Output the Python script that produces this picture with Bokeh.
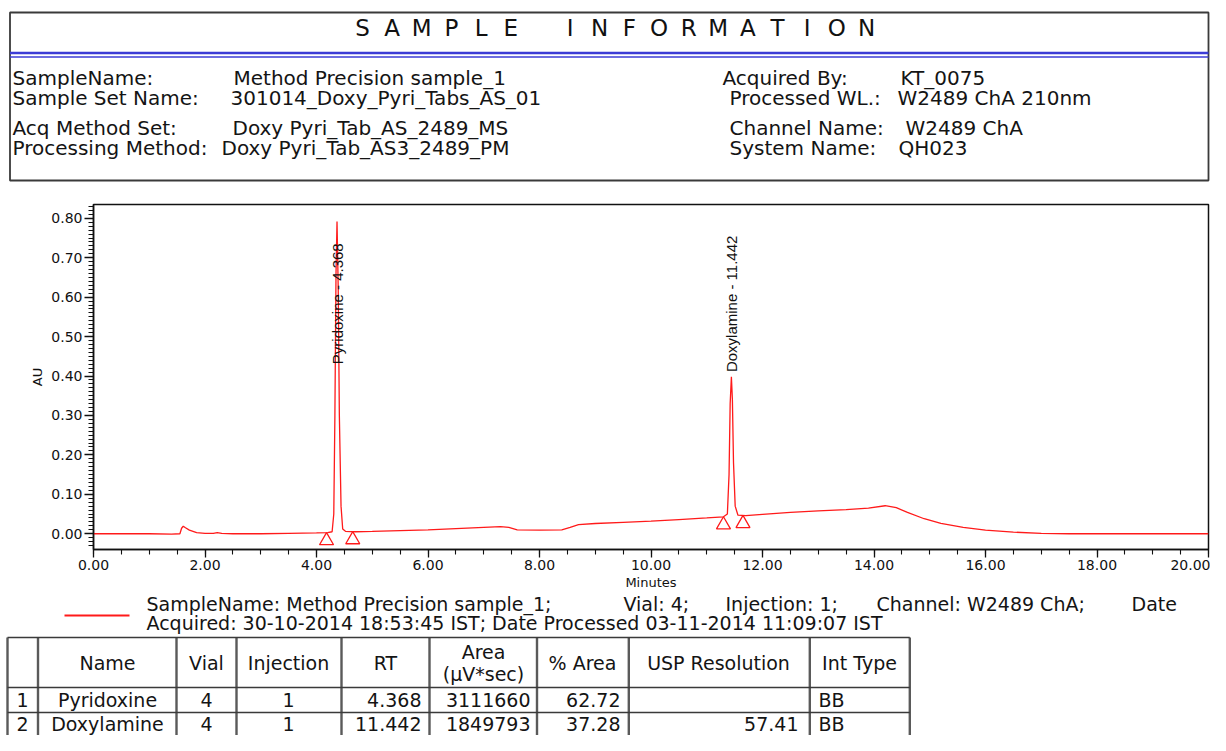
import numpy as np
from math import pi
from bokeh.plotting import figure
from bokeh.models import Range1d, ColumnDataSource, FixedTicker, PrintfTickFormatter
from bokeh.layouts import column
from bokeh.embed import file_html
from bokeh.resources import INLINE
from bokeh.core.properties import value

# ---------------- data ----------------
time_min = [0.00, 0.50, 1.00, 1.40, 1.55, 1.58, 1.61, 1.65, 1.72, 1.85, 2.00, 2.15, 2.22, 2.30,
            2.50, 3.00, 3.50, 4.00, 4.20, 4.28, 4.31, 4.33, 4.35, 4.368, 4.39, 4.41, 4.44, 4.47,
            4.52, 4.70, 5.00, 5.50, 6.00, 6.50, 7.00, 7.30, 7.45, 7.60, 8.00, 8.40, 8.55, 8.70,
            9.00, 9.50, 10.00, 10.50, 11.00, 11.30, 11.37, 11.40, 11.42, 11.442, 11.46, 11.48,
            11.51, 11.56, 11.70, 12.00, 12.50, 13.00, 13.50, 13.90, 14.20, 14.40, 14.60, 14.90,
            15.20, 15.60, 16.00, 16.50, 17.00, 17.50, 18.00, 19.00, 20.00]
absorbance = [0.000, 0.000, 0.000, -0.001, 0.000, 0.014, 0.019, 0.015, 0.009, 0.003, 0.001, 0.001,
              0.003, 0.001, 0.000, 0.000, 0.001, 0.002, 0.003, 0.005, 0.050, 0.300, 0.660, 0.792,
              0.620, 0.300, 0.070, 0.012, 0.006, 0.005, 0.006, 0.008, 0.010, 0.013, 0.016, 0.018,
              0.016, 0.010, 0.009, 0.010, 0.016, 0.023, 0.026, 0.029, 0.032, 0.036, 0.040, 0.043,
              0.050, 0.150, 0.330, 0.398, 0.340, 0.180, 0.070, 0.047, 0.046, 0.049, 0.054, 0.058,
              0.061, 0.065, 0.071, 0.066, 0.054, 0.038, 0.026, 0.016, 0.009, 0.004, 0.001, 0.000,
              0.000, 0.000, 0.000]

peak_labels = ["Pyridoxine - 4.368", "Doxylamine - 11.442"]
peak_rt = [4.368, 11.442]
peak_label_au = [0.43, 0.41]
integration_times = [4.18, 4.65, 11.30, 11.65]

x_major = [0, 2, 4, 6, 8, 10, 12, 14, 16, 18, 20]
y_major = [0.0, 0.1, 0.2, 0.3, 0.4, 0.5, 0.6, 0.7, 0.8]

hdr_left_labels = ["SampleName:", "Sample Set Name:", "Acq Method Set:", "Processing Method:"]
hdr_left_values = ["Method Precision sample_1", "301014_Doxy_Pyri_Tabs_AS_01",
                   "Doxy Pyri_Tab_AS_2489_MS", "Doxy Pyri_Tab_AS3_2489_PM"]
hdr_right_labels = ["Acquired By:", "Processed WL.:", "Channel Name:", "System Name:"]
hdr_right_values = ["KT_0075", "W2489 ChA 210nm", "W2489 ChA", "QH023"]

legend_line1 = ["SampleName: Method Precision sample_1;", "Vial: 4;", "Injection: 1;",
                "Channel: W2489 ChA;", "Date"]
legend_line2 = "Acquired: 30-10-2014 18:53:45 IST; Date Processed 03-11-2014 11:09:07 IST"

tbl_headers = ["Name", "Vial", "Injection", "RT", "% Area", "USP Resolution", "Int Type"]
tbl_area_header = ["Area", "(\u00b5V*sec)"]
tbl_idx = ["1", "2"]
tbl_name = ["Pyridoxine", "Doxylamine"]
tbl_vial = ["4", "4"]
tbl_inj = ["1", "1"]
tbl_rt = ["4.368", "11.442"]
tbl_area = ["3111660", "1849793"]
tbl_pct = ["62.72", "37.28"]
tbl_usp = ["", "57.41"]
tbl_int = ["BB", "BB"]

# ---------------- styling / layout ----------------
W = 1210
FL, FR = 93, 1208          # chart frame left / right in page pixels
FONT = value("DejaVu Sans")
TXT = "#141414"
RED = "#ff1a1a"


def blank(y_top, y_bot):
    p = figure(width=W, height=y_bot - y_top, x_range=Range1d(FL, FR),
               y_range=Range1d(y_bot, y_top), x_axis_location=None, y_axis_location=None,
               min_border_left=FL, min_border_right=W - FR, min_border_top=0,
               min_border_bottom=0, output_backend="svg", toolbar_location=None)
    p.outline_line_color = None
    p.xgrid.visible = False
    p.ygrid.visible = False
    return p


def txt(p, xs, ys, texts, size, align="left", color=TXT, font=FONT):
    src = ColumnDataSource(dict(x=xs, y=ys, t=texts))
    r = p.text(x="x", y="y", text="t", source=src, text_font=font, text_font_size=size,
               text_align=align, text_baseline="middle", text_color=color)
    r.level = "overlay"
    return r


# ---- header ----
p1 = blank(0, 190)
r = p1.quad(left=9.5, right=FR, top=12, bottom=180, fill_color=None,
            line_color="#3a3a3a", line_width=1.8)
r.level = "overlay"
r = p1.segment(x0=[9.5, 9.5], x1=[FR, FR], y0=[52.5, 56.5], y1=[52.5, 56.5],
               line_color="#3c3cd6", line_width=[2.6, 1.6])
r.level = "overlay"
title = "SAMPLE INFORMATION"
pitch = (866 - 362) / (len(title) - 1)
tx = [362 + i * pitch for i, c in enumerate(title) if c != " "]
tt = [c for c in title if c != " "]
txt(p1, tx, [27] * len(tt), tt, "23px", align="center", color="#111111")
rows_y = [77.5, 97, 127, 147]
txt(p1, [12] * 4, rows_y, hdr_left_labels, "20px")
txt(p1, [233, 230, 232, 221], rows_y, hdr_left_values, "20px")
txt(p1, [722, 729, 729, 729], rows_y, hdr_right_labels, "20px")
txt(p1, [900, 897, 905, 898], rows_y, hdr_right_values, "20px")

# ---- chromatogram ----
y0, y1 = -0.04, 0.835
top_b, bot_b = 14, 43
p2 = figure(width=W, height=402, x_range=Range1d(0, 20), y_range=Range1d(y0, y1),
            min_border_left=FL, min_border_right=W - FR, min_border_top=top_b,
            min_border_bottom=bot_b, output_backend="svg", toolbar_location=None)
p2.xgrid.visible = False
p2.ygrid.visible = False
p2.outline_line_color = "#111111"
p2.outline_line_width = 1.5
p2.line(time_min, absorbance, line_color=RED, line_width=1.3)

frame_h = 402 - top_b - bot_b
px_per_au = frame_h / (y1 - y0)
tri_size = 14
tri_off = 0.577 * tri_size / px_per_au
tri_y = [float(np.interp(t, time_min, absorbance)) - tri_off for t in integration_times]
p2.scatter(integration_times, tri_y, marker="triangle", size=tri_size,
           fill_color=None, line_color=RED, line_width=1.3)

src_pk = ColumnDataSource(dict(x=peak_rt, y=peak_label_au, t=peak_labels))
p2.text(x="x", y="y", text="t", source=src_pk, angle=pi / 2, text_align="left",
        text_baseline="middle", text_font=value("Liberation Sans"), text_font_size="15px",
        text_color="#111111")

for ax in (p2.xaxis[0], p2.yaxis[0]):
    ax.axis_line_color = "#111111"
    ax.axis_line_width = 1.5
    ax.major_tick_line_color = "#111111"
    ax.minor_tick_line_color = "#111111"
    ax.major_tick_line_width = 1.3
    ax.minor_tick_line_width = 1.1
    ax.major_tick_in = 0
    ax.minor_tick_in = 0
    ax.major_label_text_font = "DejaVu Sans"
    ax.major_label_text_font_size = "14px"
    ax.major_label_text_color = "#111111"
    ax.axis_label_text_font = "DejaVu Sans"
    ax.axis_label_text_font_size = "13px"
    ax.axis_label_text_font_style = "normal"
    ax.axis_label_text_color = "#111111"
    ax.major_label_standoff = 2
    ax.formatter = PrintfTickFormatter(format="%.2f")

p2.xaxis.ticker = FixedTicker(ticks=x_major, minor_ticks=list(np.arange(0, 20.01, 0.5)))
p2.yaxis.ticker = FixedTicker(ticks=y_major,
                              minor_ticks=list(np.round(np.arange(-0.03, 0.8301, 0.01), 2)))
p2.xaxis.major_tick_out = 8
p2.xaxis.minor_tick_out = 5
p2.yaxis.major_tick_out = 9
p2.yaxis.minor_tick_out = 5
p2.xaxis.axis_label = "Minutes"
p2.xaxis.axis_label_standoff = 2
p2.yaxis.axis_label = "AU"
p2.yaxis.axis_label_standoff = 3

# ---- legend + table ----
p3 = blank(592, 735)
r = p3.segment(x0=[64], x1=[129], y0=[615], y1=[615], line_color=RED, line_width=2)
r.level = "overlay"
txt(p3, [146, 623, 725, 876, 1131], [603] * 5, legend_line1, "19px")
txt(p3, [146], [622], [legend_line2], "19px")

col_edges = [7, 37.5, 176, 236, 341, 429, 536.5, 628.3, 809.3, 909.3]
row_edges = [637, 687, 712, 737]
r = p3.segment(x0=col_edges, x1=col_edges, y0=[637] * len(col_edges),
               y1=[740] * len(col_edges), line_color="#5a5a5a", line_width=2.4)
r.level = "overlay"
r = p3.segment(x0=[7] * len(row_edges), x1=[909.3] * len(row_edges), y0=row_edges,
               y1=row_edges, line_color="#3a3a3a", line_width=1.5)
r.level = "overlay"

txt(p3, [107, 206, 288, 385, 582, 718, 859], [662] * 7, tbl_headers, "19px", align="center")
txt(p3, [483, 483], [651, 673], tbl_area_header, "19px", align="center")
r_y = [699, 723.5]
txt(p3, [22, 22], r_y, tbl_idx, "19px", align="center")
txt(p3, [107, 107], r_y, tbl_name, "19px", align="center")
txt(p3, [206, 206], r_y, tbl_vial, "19px", align="center")
txt(p3, [288, 288], r_y, tbl_inj, "19px", align="center")
txt(p3, [421, 421], r_y, tbl_rt, "19px", align="right")
txt(p3, [530, 530], r_y, tbl_area, "19px", align="right")
txt(p3, [620, 620], r_y, tbl_pct, "19px", align="right")
txt(p3, [798, 798], r_y, tbl_usp, "19px", align="right")
txt(p3, [818, 818], r_y, tbl_int, "19px", align="left")

layout = column(p1, p2, p3, spacing=0)
open("out.html", "w").write(file_html(layout, INLINE))
